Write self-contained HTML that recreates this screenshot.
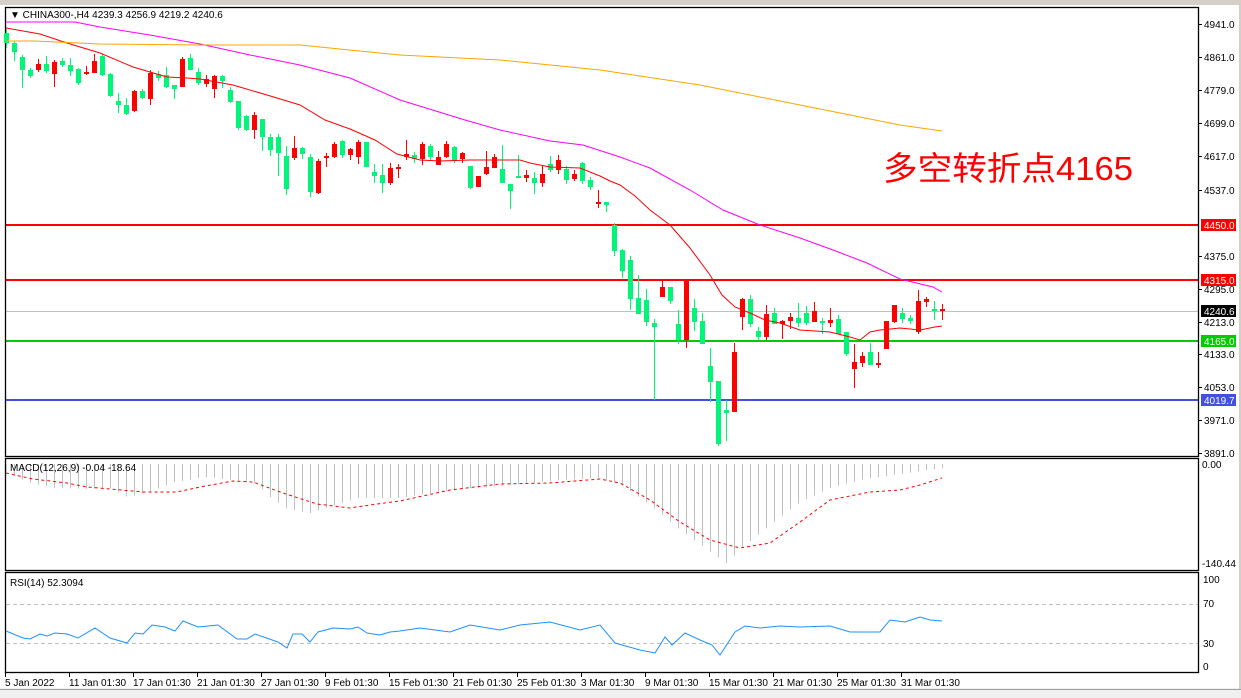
<!DOCTYPE html>
<html><head><meta charset="utf-8"><style>
html,body{margin:0;padding:0;background:#fff;width:1241px;height:698px;overflow:hidden}
svg{display:block}
text{font-family:"Liberation Sans","Noto Sans CJK SC",sans-serif;font-size:10px;fill:#000}
</style></head><body>
<svg id="s" width="1241" height="698" viewBox="0 0 1241 698" xmlns="http://www.w3.org/2000/svg">
<rect x="0" y="0" width="1241" height="698" fill="#fff"/>
<rect x="0" y="0" width="1241" height="5" fill="#d4d0c8"/>
<rect x="0" y="688" width="1241" height="10" fill="#f0f0f0"/>
<line x1="0" y1="689.5" x2="1241" y2="689.5" stroke="#a0a0a0"/>
<rect x="1239" y="5" width="2" height="684" fill="#d4d0c8"/>
<g id="lines"></g>
<g fill="none" stroke="#000" stroke-width="1.3">
<rect x="5.5" y="7.5" width="1193" height="449"/>
<rect x="5.5" y="458.5" width="1193" height="112"/>
<rect x="5.5" y="572.5" width="1193" height="100"/>
</g>
<g id="g"></g>
<text x="10" y="18" font-size="10.5">▼ CHINA300-,H4  4239.3 4256.9 4219.2 4240.6</text>
<text x="883" y="180" textLength="250" lengthAdjust="spacingAndGlyphs" style="font-size:33px;fill:#ff0000">多空转折点4165</text>
<text x="10" y="471">MACD(12,26,9) -0.04 -18.64</text>
<text x="10" y="586">RSI(14) 52.3094</text>
<g id="ax">
<text x="1204" y="28">4941.0</text><text x="1204" y="61">4861.0</text><text x="1204" y="94">4779.0</text>
<text x="1204" y="127">4699.0</text><text x="1204" y="160">4617.0</text><text x="1204" y="194">4537.0</text>
<text x="1204" y="260">4375.0</text><text x="1204" y="293">4295.0</text><text x="1204" y="326">4213.0</text>
<text x="1204" y="358">4133.0</text><text x="1204" y="391">4053.0</text><text x="1204" y="424">3971.0</text>
<text x="1204" y="457">3891.0</text>
<rect x="1201" y="219" width="35" height="12" fill="#ff0000"/><text x="1204" y="229" style="fill:#fff">4450.0</text>
<rect x="1201" y="274" width="35" height="12" fill="#ff0000"/><text x="1204" y="284" style="fill:#fff">4315.0</text>
<rect x="1201" y="305" width="35" height="12" fill="#000"/><text x="1204" y="315" style="fill:#fff">4240.6</text>
<rect x="1201" y="335" width="35" height="12" fill="#00cc00"/><text x="1204" y="345" style="fill:#fff">4165.0</text>
<rect x="1201" y="394" width="35" height="12" fill="#4050e0"/><text x="1204" y="404" style="fill:#fff">4019.7</text>
<text x="1202" y="468">0.00</text><text x="1202" y="567">-140.44</text>
<text x="1203" y="583">100</text><text x="1203" y="607">70</text><text x="1203" y="647">30</text><text x="1203" y="670">0</text>
</g>
<g font-size="10">
<text x="5" y="686">5 Jan 2022</text><text x="69" y="686">11 Jan 01:30</text><text x="133" y="686">17 Jan 01:30</text>
<text x="197" y="686">21 Jan 01:30</text><text x="261" y="686">27 Jan 01:30</text><text x="325" y="686">9 Feb 01:30</text>
<text x="389" y="686">15 Feb 01:30</text><text x="453" y="686">21 Feb 01:30</text><text x="517" y="686">25 Feb 01:30</text>
<text x="581" y="686">3 Mar 01:30</text><text x="645" y="686">9 Mar 01:30</text><text x="709" y="686">15 Mar 01:30</text>
<text x="773" y="686">21 Mar 01:30</text><text x="837" y="686">25 Mar 01:30</text><text x="901" y="686">31 Mar 01:30</text>
</g>
</svg>
<script>
const NS="http://www.w3.org/2000/svg",G=document.getElementById('g'),L=document.getElementById('lines');
function el(p,t,a){const e=document.createElementNS(NS,t);for(const k in a)e.setAttribute(k,a[k]);p.appendChild(e);return e;}
el(L,'line',{x1:6,x2:1198,y1:311.5,y2:311.5,stroke:'#c0c0c0'});
el(L,'line',{x1:6,x2:1198,y1:225,y2:225,stroke:'#ff0000','stroke-width':2});
el(L,'line',{x1:6,x2:1198,y1:280,y2:280,stroke:'#ff0000','stroke-width':2});
el(L,'line',{x1:6,x2:1198,y1:341,y2:341,stroke:'#00cc00','stroke-width':2});
el(L,'line',{x1:6,x2:1198,y1:400,y2:400,stroke:'#4050e0','stroke-width':2});
el(L,'line',{x1:6,x2:1198,y1:604.5,y2:604.5,stroke:'#c0c0c0','stroke-dasharray':'4,3'});
el(L,'line',{x1:6,x2:1198,y1:643.5,y2:643.5,stroke:'#c0c0c0','stroke-dasharray':'4,3'});
[24,57,90,123,156,190,256,289,322,354,387,420,453].forEach(y=>el(G,'line',{x1:1199,x2:1202,y1:y+.5,y2:y+.5,stroke:'#000'}));
for(let i=0;i<15;i++){const x=5.5+64*i;el(G,'line',{x1:x,x2:x,y1:673,y2:677,stroke:'#000'});}
const C=[
['g',33,43,27,48],['g',43,52,41,61],['g',57,70,55,88],['g',70,76,68,78],['r',64,70,59,72],['g',64,71,56,73],['r',62,74,60,87],['g',61,65,58,67],
['g',65,71,58,76],['g',69,83,68,85],['r',72,74,66,75],['r',61,73,54,73],['g',56,75,54,76],['g',74,96,73,97],['g',101,105,93,113],['g',105,114,98,115],
['r',91,111,90,112],['g',91,98,89,99],['r',73,99,70,105],['g',74,78,71,81],['g',75,87,67,88],['g',85,89,85,99],['r',59,87,57,87],['g',58,70,54,70],
['g',72,83,68,85],['r',79,84,75,87],['r',76,89,75,98],['g',76,81,75,88],['g',90,102,87,103],['g',101,128,101,130],['g',116,130,115,131],['r',115,130,112,139],
['g',119,137,119,151],['g',137,150,134,156],['g',137,153,134,176],['g',156,189,146,195],['r',148,158,136,160],['g',148,154,147,159],['g',157,192,154,197],['r',161,193,159,194],
['r',156,158,153,167],['r',144,157,142,158],['g',141,155,140,158],['r',149,155,148,160],['r',142,157,140,164],['g',142,167,142,167],['g',172,176,164,183],['g',175,183,164,193],
['r',168,183,163,185],['r',167,169,164,178],['r',154,157,140,160],['g',155,159,152,163],['r',144,159,142,165],['g',146,157,144,160],['r',157,165,151,165],['r',144,157,141,158],
['g',147,160,146,163],['r',153,159,152,163],['g',166,188,166,189],['r',176,187,176,187],['r',167,174,151,175],['r',157,168,154,168],['g',169,183,145,183],['g',184,191,184,209],
['g',176,178,155,178],['r',175,178,170,182],['g',178,183,172,194],['r',174,183,165,187],['g',164,170,156,172],['r',160,170,155,174],['g',169,180,166,184],['r',174,179,170,181],
['g',163,181,162,184],['g',180,187,177,190],['r',202,204,190,208],['g',202,205,202,212],
['g',225,251,223,256],['g',250,271,249,278],['g',260,299,256,310],['g',298,314,275,314],['g',300,322,289,326],['g',323,327,319,400],['r',287,297,280,297],['g',287,301,287,304],
['g',324,340,310,344],['r',280,340,280,348],['g',308,322,299,331],['g',321,344,313,344],['g',366,382,348,402],['g',381,444,381,446],['g',410,413,400,441],['r',352,412,343,412],
['r',299,317,298,330],['g',299,324,295,327],['g',331,337,327,340],['r',314,337,305,340],['g',313,324,308,324],['r',321,324,320,339],['r',317,321,313,329],['g',318,323,303,327],
['g',313,323,306,325],['r',311,322,302,322],['g',321,323,318,334],['r',320,323,308,327],['g',319,334,315,334],['g',332,354,332,356],['r',362,369,344,388],['r',356,363,352,367],
['g',352,365,343,365],['r',363,365,352,368],['r',321,349,321,349],['r',305,322,305,323],['g',313,319,308,323],['g',318,321,315,324],['r',301,332,290,334],['r',299,302,297,307],
['g',309,311,301,320],['r',309,311,304,320]];
const col={g:'#00f57a',r:'#ff0000'};
C.forEach((c,i)=>{const x=6+8*i;const f=col[c[0]];
el(G,'line',{x1:x+.5,x2:x+.5,y1:c[3],y2:c[4],stroke:f});
el(G,'rect',{x:x-2,y:c[1],width:5,height:Math.max(1,c[2]-c[1]),fill:f});});
function pl(pts,st,w,extra){const a={points:pts.map(p=>p.join(',')).join(' '),fill:'none',stroke:st,'stroke-width':w||1};Object.assign(a,extra||{});el(G,'polyline',a);}
pl([[6,28],[40,34],[67,43],[100,53],[133,67],[150,72],[167,77],[187,78],[200,79],[233,85],[267,95],[300,105],[325,120],[350,129],[375,140],[397,154],[420,160],[440,161],[470,160],[520,160],[530,163],[550,167],[580,168],[590,172],[600,176],[610,181],[620,185],[635,196],[650,210],[670,225],[690,248],[710,275],[722,295],[735,307],[750,313],[765,320],[780,323],[800,330],[830,332],[850,337],[860,340],[870,332],[880,330],[900,328],[920,330],[935,327],[942,326]],'#ff0000',1);
pl([[6,22],[75,22],[100,27],[150,35],[200,44],[250,55],[300,65],[350,78],[400,100],[465,120],[500,130],[550,141],[583,145],[620,157],[650,168],[690,190],[723,210],[760,225],[800,238],[833,250],[867,263],[900,279],[933,287],[942,292]],'#ff00ff',1);
pl([[6,41],[35,41],[100,44],[200,45],[300,45],[400,55],[500,60],[600,70],[700,85],[800,105],[900,125],[942,131]],'#ffa500',1);
const H=[[6,472],[30,483],[55,488],[90,489],[110,488],[127,497],[152,491],[175,482],[207,477],[240,481],[255,483],[270,497],[287,509],[310,513],[335,505],[358,498],[400,498],[450,490],[500,486],[560,480],[600,478],[620,484],[650,505],[680,530],[705,548],[726,563],[745,545],[770,525],[800,502],[830,488],[860,480],[900,474],[942,468]];
function interp(P,x){for(let i=0;i<P.length-1;i++){if(x>=P[i][0]&&x<=P[i+1][0]){const t=(x-P[i][0])/(P[i+1][0]-P[i][0]);return P[i][1]+t*(P[i+1][1]-P[i][1]);}}return P[P.length-1][1];}
for(let i=0;i<118;i++){const x=6+8*i;el(G,'line',{x1:x+.5,x2:x+.5,y1:464,y2:interp(H,x),stroke:'#c0c0c0'});}
pl([[6,473],[33,479],[67,483],[87,487],[110,489],[143,492],[177,492],[200,487],[233,481],[253,482],[283,493],[317,504],[350,508],[377,504],[400,501],[450,490],[500,484],[550,483],[600,479],[620,483],[650,500],[680,522],[710,540],[740,548],[770,543],[800,522],[830,500],[870,492],[900,490],[920,485],[942,478]],'#ff0000',1,{'stroke-dasharray':'3,3'});
pl([[6,631],[23,638],[30,639],[40,634],[47,636],[55,633],[67,634],[78,638],[95,628],[110,638],[127,643],[135,633],[143,634],[152,625],[165,627],[175,631],[183,621],[198,627],[218,625],[237,639],[247,639],[255,634],[278,642],[287,648],[293,634],[302,634],[310,642],[318,632],[333,628],[350,629],[358,627],[367,633],[380,635],[390,632],[400,631],[420,628],[450,632],[470,625],[500,630],[520,625],[550,622],[580,630],[600,625],[615,643],[640,650],[655,653],[665,637],[672,645],[685,633],[700,640],[712,645],[720,655],[735,632],[745,626],[760,628],[780,626],[800,627],[830,626],[850,632],[880,632],[890,620],[905,622],[920,617],[930,620],[942,621]],'#1e90ff',1);
</script>
</body></html>
